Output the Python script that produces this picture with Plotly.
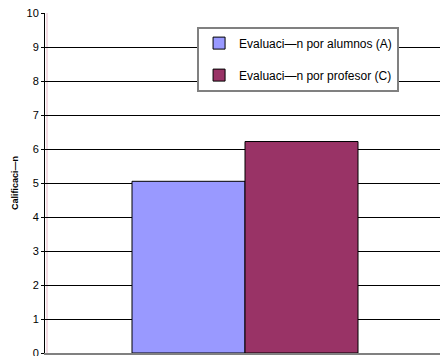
import plotly.graph_objects as go

categories = [""]
series_names = ["Evaluaci—n por alumnos (A)", "Evaluaci—n por profesor (C)"]
series_values = [[5.05], [6.22]]
series_colors = ["#9999FF", "#993366"]
y_ticks = [0, 1, 2, 3, 4, 5, 6, 7, 8, 9, 10]

fig = go.Figure()
for i, (name, vals, col) in enumerate(zip(series_names, series_values, series_colors)):
    fig.add_trace(go.Bar(
        x=categories, y=vals, name=name,
        marker=dict(color=col, line=dict(color="#000000", width=1)),
        legendgroup=f"g{i}",
    ))

fig.update_layout(
    width=440, height=356,
    margin=dict(l=45, r=0, t=13, b=3, autoexpand=False),
    paper_bgcolor="white", plot_bgcolor="white",
    barmode="group", bargap=0.435, bargroupgap=0,
    font=dict(family="Liberation Sans, Arial, sans-serif", size=11, color="#000000"),
    showlegend=True,
    legend=dict(
        x=0.385, y=0.96, xanchor="left", yanchor="top",
        bgcolor="white", bordercolor="#808080", borderwidth=2,
        font=dict(size=12), tracegroupgap=13, itemwidth=30,
    ),
    xaxis=dict(
        range=[-0.5, 0.4875], showticklabels=False, showgrid=False, automargin=False,
        zeroline=False, showline=True, linecolor="#808080", linewidth=2, ticks="",
    ),
    yaxis=dict(
        range=[0, 10], tickvals=y_ticks, showgrid=True, gridcolor="#000000", gridwidth=1,
        zeroline=False, showline=True, linecolor="#000000", linewidth=1,
        ticks="outside", ticklen=3, tickcolor="#000000", automargin=False,
        ticklabeloverflow="allow",
        tickfont=dict(size=11, color="#000000"),
        title=dict(text="<b>Calificaci—n</b>", font=dict(size=9), standoff=6),
    ),
    shapes=[dict(type="line", xref="paper", yref="paper", xsizemode="pixel", xanchor=0,
                 x0=2, x1=2, y0=0, y1=1, line=dict(color="#E6B8C8", width=1), layer="below")],
)

fig.write_html("out.html")
